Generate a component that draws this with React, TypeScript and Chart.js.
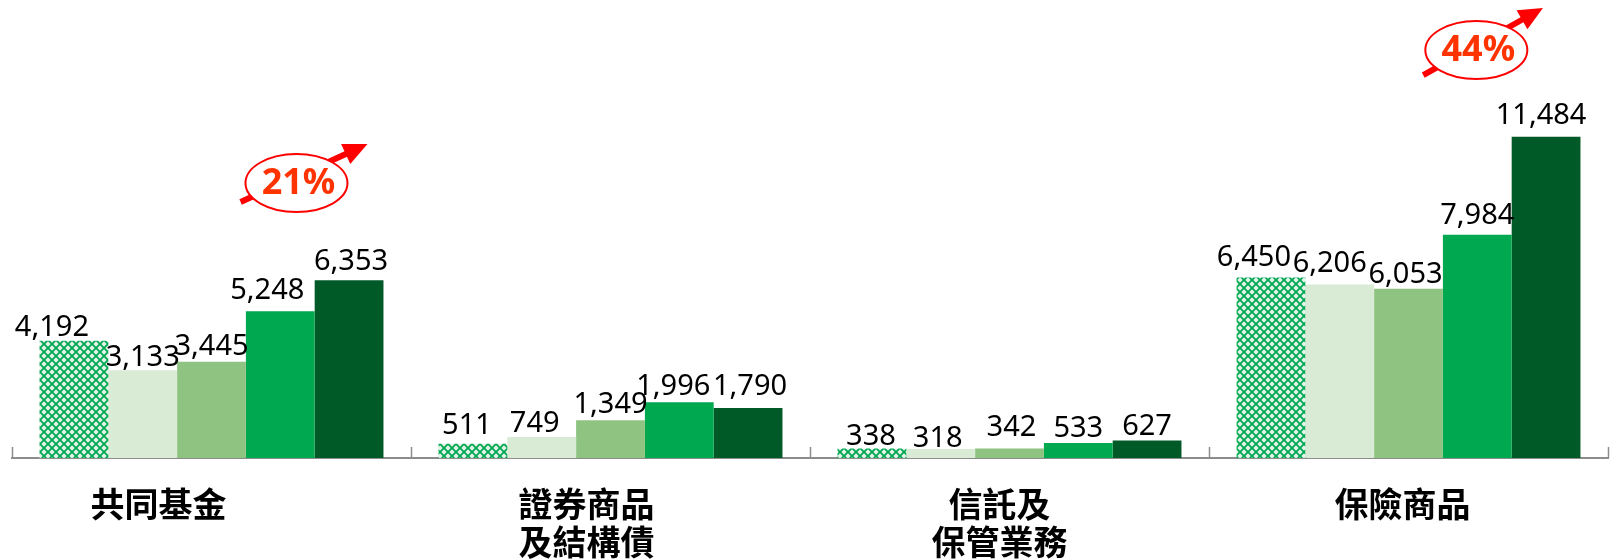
import React, { useEffect, useRef } from 'react';
import { Chart, registerables } from 'chart.js';

Chart.register(...registerables);

// ---- data ----
const categories: string[][] = [
  ['共同基金'],
  ['證券商品', '及結構債'],
  ['信託及', '保管業務'],
  ['保險商品'],
];
const series1 = [4192, 511, 338, 6450];
const series2 = [3133, 749, 318, 6206];
const series3 = [3445, 1349, 342, 6053];
const series4 = [5248, 1996, 533, 7984];
const series5 = [6353, 1790, 627, 11484];
const seriesNames = ['系列1', '系列2', '系列3', '系列4', '系列5'];
const growthTexts = ['21%', '44%'];

// ---- styles / layout ----
const colors = ['#00A651', '#D9EBD4', '#8FC382', '#00A84F', '#005A28'];
// [dx, gap above bar] per series per category (label placement tweaks)
const labelNudge: number[][][] = [
  [[-22, 5], [-6, 10], [-1, 4], [-17, 12]],
  [[0, 4], [-7, 5], [-3, 2], [-10, 12]],
  [[0, 7], [0, 7], [2, 12], [-3, 6]],
  [[-13, 12], [-6, 7], [0, 6], [0, 11]],
  [[2, 10], [2, 13], [0, 5], [-5, 13]],
];
// horizontal offset of each category label from its category centre
const categoryLabelDx = [-53, -24, -10, -6];
// annotation anchors in data coordinates (category index, value)
const growthAnchors = [
  { cx: 0.213, cy: 9832, ax1: 0.073, ay1: 9153, ax2: 0.391, ay2: 11226 },
  { cx: 3.17, cy: 14587, ax1: 3.037, ay1: 13693, ax2: 3.337, ay2: 16089 },
];

function makePattern(): CanvasPattern | string {
  const c = document.createElement('canvas');
  c.width = 8;
  c.height = 8;
  const g = c.getContext('2d');
  if (!g) return '#00A651';
  g.fillStyle = '#00A651';
  g.fillRect(0, 0, 8, 8);
  g.fillStyle = '#E2F4E8';
  const diamond = (cx: number, cy: number, r: number) => {
    g.beginPath();
    g.moveTo(cx, cy - r);
    g.lineTo(cx + r, cy);
    g.lineTo(cx, cy + r);
    g.lineTo(cx - r, cy);
    g.closePath();
    g.fill();
  };
  [[0, 0], [8, 0], [0, 8], [8, 8], [4, 4]].forEach(([x, y]) => diamond(x, y, 2.7));
  return g.createPattern(c, 'repeat') || '#00A651';
}

const valueLabelPlugin = {
  id: 'valueLabels',
  afterDatasetsDraw(chart: any) {
    const ctx = chart.ctx;
    ctx.save();
    ctx.font = '29px "Noto Sans"';
    ctx.fillStyle = '#000';
    ctx.textAlign = 'center';
    ctx.textBaseline = 'alphabetic';
    chart.data.datasets.forEach((ds: any, di: number) => {
      const meta = chart.getDatasetMeta(di);
      meta.data.forEach((bar: any, i: number) => {
        const v = ds.data[i] as number;
        const [dx, gap] = labelNudge[di][i];
        ctx.fillText(v.toLocaleString('en-US'), bar.x + dx, bar.y - gap);
      });
    });
    ctx.restore();
  },
};

const axisPlugin = {
  id: 'axisDecor',
  afterDraw(chart: any) {
    const ctx = chart.ctx;
    const xs = chart.scales.x;
    const bottom = chart.chartArea.bottom;
    ctx.save();
    ctx.strokeStyle = '#8C8C8C';
    ctx.lineWidth = 1.5;
    for (let i = 0; i <= categories.length; i++) {
      const x = Math.round(xs.getPixelForValue(i - 0.5)) + 0.5;
      ctx.beginPath();
      ctx.moveTo(x, bottom - 11);
      ctx.lineTo(x, bottom);
      ctx.stroke();
    }
    // category labels
    ctx.font = 'bold 34px "Noto Sans CJK TC"';
    ctx.fillStyle = '#000';
    ctx.textAlign = 'center';
    ctx.textBaseline = 'middle';
    categories.forEach((lines, i) => {
      const x = xs.getPixelForValue(i) + categoryLabelDx[i];
      lines.forEach((t, li) => {
        ctx.fillText(t, x, bottom + 46 + li * 38);
      });
    });
    ctx.restore();
  },
};

const growthPlugin = {
  id: 'growth',
  afterDraw(chart: any) {
    const ctx = chart.ctx;
    const xs = chart.scales.x;
    const ys = chart.scales.y;
    ctx.save();
    growthAnchors.forEach((a, k) => {
      const x1 = xs.getPixelForValue(a.ax1);
      const y1 = ys.getPixelForValue(a.ay1);
      const x2 = xs.getPixelForValue(a.ax2);
      const y2 = ys.getPixelForValue(a.ay2);
      const ang = Math.atan2(y2 - y1, x2 - x1);
      const headLen = 24;
      const headW = 11;
      const bx = x2 - headLen * Math.cos(ang);
      const by = y2 - headLen * Math.sin(ang);
      ctx.strokeStyle = '#FF0000';
      ctx.lineWidth = 6;
      ctx.beginPath();
      ctx.moveTo(x1, y1);
      ctx.lineTo(bx + 2 * Math.cos(ang), by + 2 * Math.sin(ang));
      ctx.stroke();
      ctx.fillStyle = '#FF0000';
      ctx.beginPath();
      ctx.moveTo(x2, y2);
      ctx.lineTo(bx + headW * Math.sin(ang), by - headW * Math.cos(ang));
      ctx.lineTo(bx - headW * Math.sin(ang), by + headW * Math.cos(ang));
      ctx.closePath();
      ctx.fill();

      const cx = xs.getPixelForValue(a.cx);
      const cy = ys.getPixelForValue(a.cy);
      ctx.beginPath();
      ctx.ellipse(cx, cy, 51, 29, 0, 0, Math.PI * 2);
      ctx.fillStyle = '#FFFFFF';
      ctx.fill();
      ctx.lineWidth = 2;
      ctx.strokeStyle = '#FF0000';
      ctx.stroke();

      ctx.font = 'bold 36px "Noto Sans"';
      ctx.fillStyle = '#FF3300';
      ctx.textAlign = 'center';
      ctx.textBaseline = 'middle';
      ctx.fillText(growthTexts[k], cx + 2, cy + 1);
    });
    ctx.restore();
  },
};

export default function App() {
  const ref = useRef<HTMLCanvasElement>(null);
  useEffect(() => {
    const canvas = ref.current;
    if (!canvas) return;
    const pattern = makePattern();
    const allSeries = [series1, series2, series3, series4, series5];
    const chart = new Chart(canvas, {
      type: 'bar',
      data: {
        labels: categories.map((c) => c.join('')),
        datasets: allSeries.map((d, i) => ({
          label: seriesNames[i],
          data: d,
          backgroundColor: i === 0 ? (pattern as any) : colors[i],
          borderWidth: 0,
          barPercentage: 1,
          categoryPercentage: 0.862,
        })),
      },
      options: {
        responsive: false,
        devicePixelRatio: 1,
        animation: false,
        layout: { padding: { left: 12, right: 4, top: 0, bottom: 0 } },
        plugins: {
          legend: { display: false },
          tooltip: { enabled: false },
          title: { display: false },
        },
        scales: {
          x: {
            grid: { display: false, drawTicks: false },
            border: { display: true, color: '#8C8C8C', width: 2 },
            ticks: { display: false },
            afterFit: (scale: any) => {
              scale.height = 102;
            },
          },
          y: {
            display: false,
            min: 0,
            max: 16375,
          },
        },
      },
      plugins: [valueLabelPlugin, axisPlugin, growthPlugin],
    } as any);
    return () => chart.destroy();
  }, []);
  return (
    <div style={{ position: 'absolute', left: 0, top: 0, width: 1612, height: 560 }}>
      <canvas ref={ref} width={1612} height={560} style={{ display: 'block', width: 1612, height: 560 }} />
    </div>
  );
}
